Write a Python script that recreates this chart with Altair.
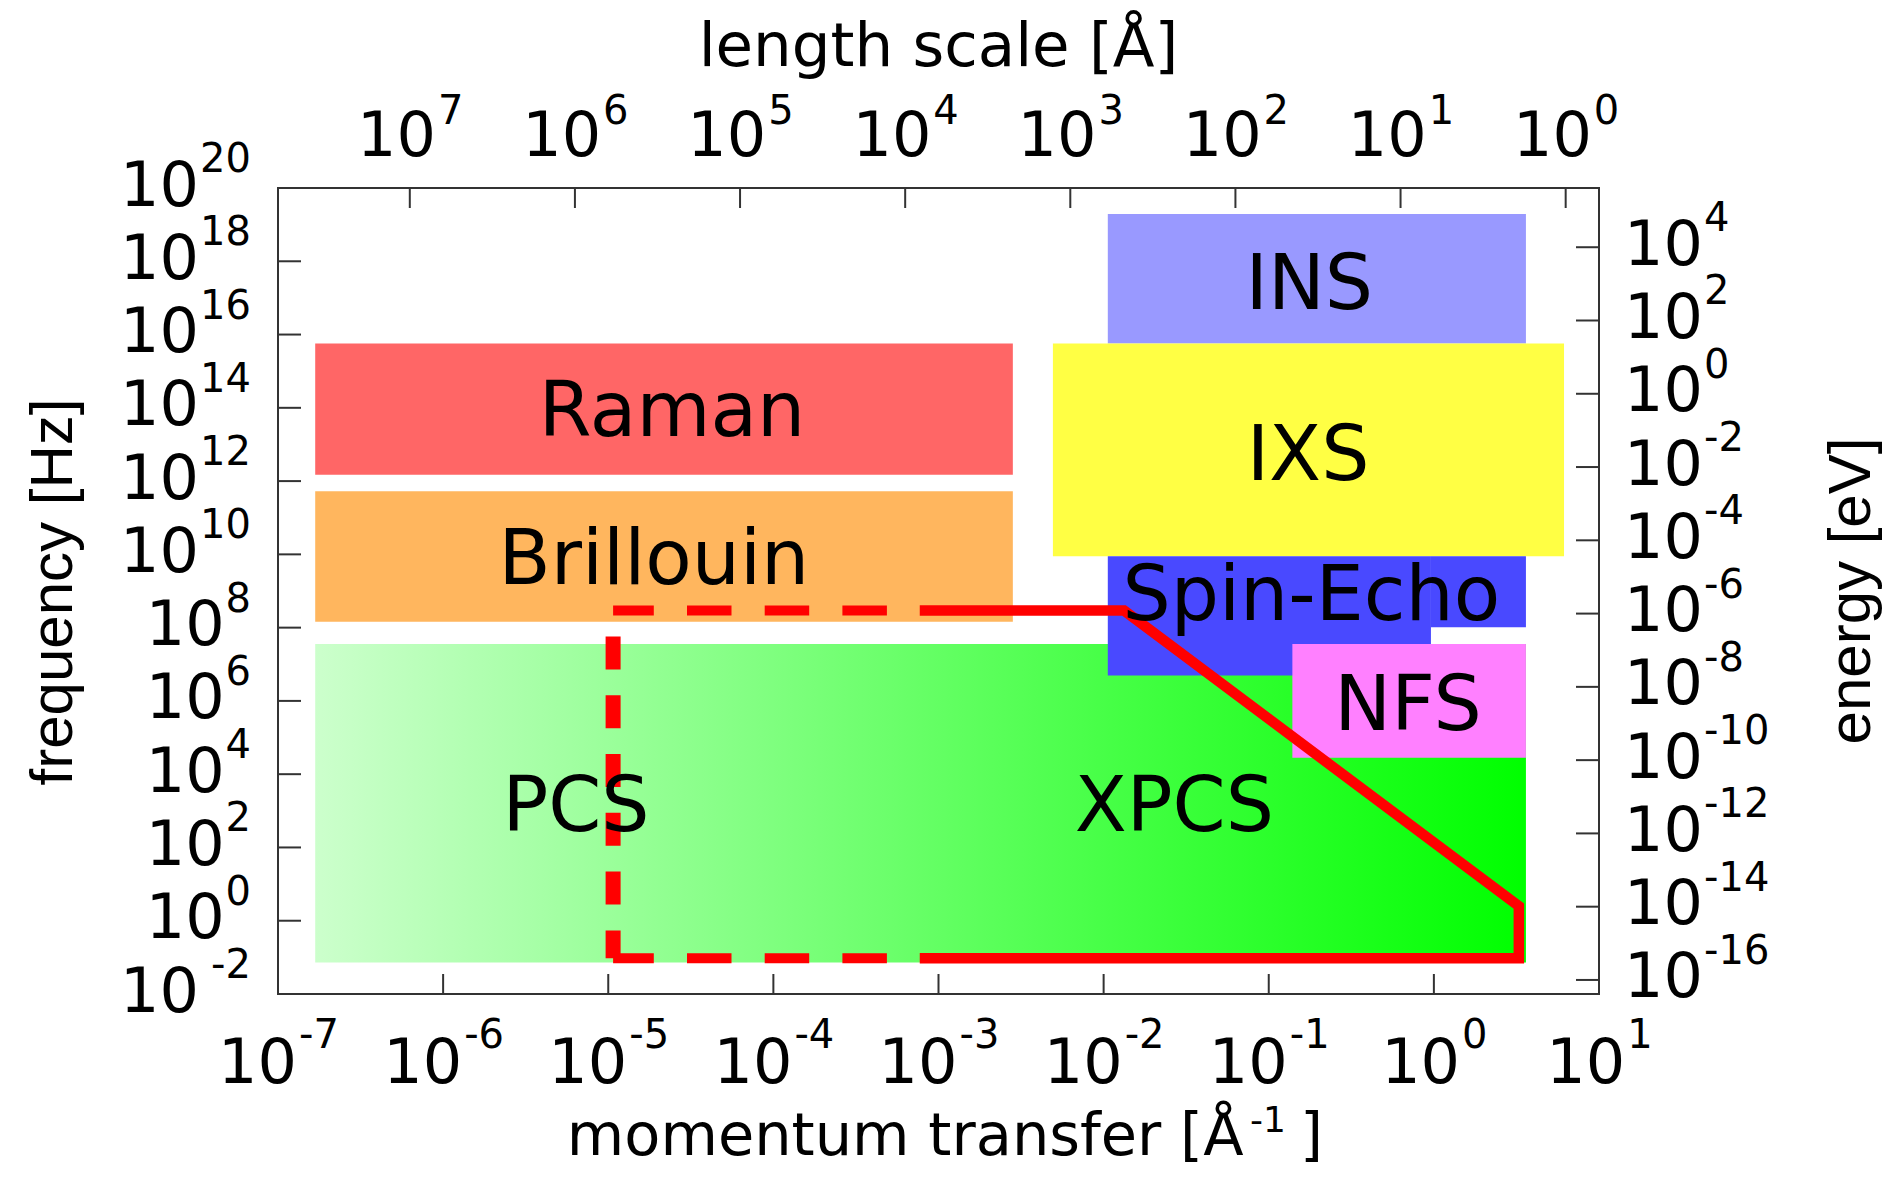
import math
import altair as alt
import pandas as pd

H_PLANCK = 4.135667e-15   # eV s  (energy axis = h * f)
TWO_PI = 2.0 * math.pi     # length scale = 2*pi / q

# ---------------- data ----------------
# rectangular technique regions: momentum transfer q [1/A], frequency f [Hz]
region_names = ["Raman", "Brillouin", "INS", "IXS", "Spin-Echo", "Spin-Echo", "NFS"]
region_q_lo = [1.68e-7, 1.68e-7, 1.06e-2, 4.93e-3, 1.06e-2, 0.96, 0.139]
region_q_hi = [2.82e-3, 2.82e-3, 3.61, 6.14, 0.96, 3.61, 3.61]
region_f_lo = [1.49e12, 1.45e8, 5.69e15, 8.9e9, 4.9e6, 1.03e8, 2.8e4]
region_f_hi = [5.69e15, 5.3e11, 1.96e19, 5.69e15, 8.9e9, 8.9e9, 3.6e7]

color_names = ["Raman", "Brillouin", "INS", "IXS", "Spin-Echo", "NFS"]
color_values = ["#ff6666", "#ffb65e", "#9999ff", "#ffff44", "#4949ff", "#ff80ff"]

# (X)PCS green region
pcs_q_lo = [1.68e-7]
pcs_q_hi = [3.61]
pcs_f_lo = [0.072]
pcs_f_hi = [3.6e7]

# region labels
label_text = ["Raman", "Brillouin", "INS", "IXS", "Spin-Echo", "NFS", "PCS", "XPCS"]
label_q = [2.43e-5, 1.89e-5, 0.176, 0.173, 0.181, 0.698, 6.38e-6, 0.0268]
label_f = [9.8e13, 9.0e9, 2.86e17, 6.15e12, 9.1e8, 9.3e5, 1.62e3, 1.62e3]

# red XPCS outline
red_q_left = 1.07e-5
red_q_dash_end = 7.7e-4
red_q_knee = 0.0133
red_q_right = 3.27
red_f_top = 2.93e8
red_f_knee = 2.5
red_f_bottom = 0.095

solid_q = [red_q_dash_end, red_q_knee, red_q_right, red_q_right, red_q_dash_end]
solid_f = [red_f_top, red_f_top, red_f_knee, red_f_bottom, red_f_bottom]

# axis tick exponents
bottom_exps = [-7, -6, -5, -4, -3, -2, -1, 0, 1]          # q [1/A]
left_exps = [-2, 0, 2, 4, 6, 8, 10, 12, 14, 16, 18, 20]   # f [Hz]
top_exps = [7, 6, 5, 4, 3, 2, 1, 0]                       # length [A]
right_exps = [4, 2, 0, -2, -4, -6, -8, -10, -12, -14, -16]  # energy [eV]

# ---------------- tables ----------------
regions = pd.DataFrame({"name": region_names, "q_lo": region_q_lo, "q_hi": region_q_hi,
                        "f_lo": region_f_lo, "f_hi": region_f_hi})
pcs = pd.DataFrame({"q_lo": pcs_q_lo, "q_hi": pcs_q_hi, "f_lo": pcs_f_lo, "f_hi": pcs_f_hi})
labels = pd.DataFrame({"t": label_text, "q": label_q, "f": label_f})
solid = pd.DataFrame({"q": solid_q, "f": solid_f, "i": list(range(len(solid_q)))})
# dashed horizontal segments (each drawn from left to right)
dash_h = pd.DataFrame({"q": [red_q_left, red_q_dash_end, red_q_left, red_q_dash_end],
                       "f": [red_f_top, red_f_top, red_f_bottom, red_f_bottom],
                       "seg": ["top", "top", "bottom", "bottom"], "i": [0, 1, 0, 1]})
# dashed vertical segment (drawn from bottom to top)
dash_v = pd.DataFrame({"q": [red_q_left, red_q_left], "f": [red_f_bottom, red_f_top], "i": [0, 1]})


def tick_table(exps, conv):
    return pd.DataFrame({"v": [conv(e) for e in exps], "e": exps,
                         "s": [str(e) for e in exps], "n": [len(str(e)) for e in exps]})


bottom_df = tick_table(bottom_exps, lambda e: 10.0 ** e)
left_df = tick_table(left_exps, lambda e: 10.0 ** e)
top_df = tick_table(top_exps, lambda e: TWO_PI / 10.0 ** e)
right_df = tick_table(right_exps, lambda e: 10.0 ** e / H_PLANCK)

# ---------------- chart ----------------
W, H = 1321, 806
FONT = "DejaVu Sans"
VFONT = "Liberation Sans"
AX = "#333333"
BIG, SUP = 62, 40

xs = alt.Scale(type="log", domain=[1e-7, 10], nice=False)
ys = alt.Scale(type="log", domain=[1e-2, 1e20], nice=False)


def X(f):
    return alt.X(f, type="quantitative", scale=xs, axis=None)


def Y(f):
    return alt.Y(f, type="quantitative", scale=ys, axis=None)


green = alt.Chart(pcs).mark_rect(
    color=alt.LinearGradient(gradient="linear", x1=0, x2=1, y1=0, y2=0,
                             stops=[alt.GradientStop(color="#ccffcc", offset=0),
                                    alt.GradientStop(color="#00ff00", offset=1)])
).encode(x=X("q_lo"), x2="q_hi", y=Y("f_lo"), y2="f_hi")

rects = alt.Chart(regions).mark_rect().encode(
    x=X("q_lo"), x2="q_hi", y=Y("f_lo"), y2="f_hi",
    color=alt.Color("name:N", scale=alt.Scale(domain=color_names, range=color_values), legend=None),
)

red_h = alt.Chart(dash_h).mark_line(color="#ff0000", strokeWidth=10, strokeDash=[44.5, 33.2],
                                    strokeDashOffset=3.8, strokeCap="butt").encode(
    x=X("q"), y=Y("f"), detail="seg:N", order="i:Q")
red_v = alt.Chart(dash_v).mark_line(color="#ff0000", strokeWidth=15, strokeDash=[33, 25.8],
                                    strokeDashOffset=5.2, strokeCap="butt").encode(
    x=X("q"), y=Y("f"), order="i:Q")
red_solid = alt.Chart(solid).mark_line(color="#ff0000", strokeWidth=10.5, strokeJoin="miter").encode(
    x=X("q"), y=Y("f"), order="i:Q")

region_labels = alt.Chart(labels).mark_text(
    font=FONT, fontSize=76, align="center", baseline="alphabetic", dy=27.7, color="black"
).encode(x=X("q"), y=Y("f"), text="t:N")

# tick marks (inward)
tick_b = alt.Chart(bottom_df).mark_rule(color=AX, strokeWidth=2).encode(
    x=X("v"), y=alt.value(H), y2=alt.value(H - 20))
tick_t = alt.Chart(top_df).mark_rule(color=AX, strokeWidth=2).encode(
    x=X("v"), y=alt.value(0), y2=alt.value(20))
tick_l = alt.Chart(left_df).mark_rule(color=AX, strokeWidth=2).encode(
    y=Y("v"), x=alt.value(0), x2=alt.value(23))
tick_r = alt.Chart(right_df).mark_rule(color=AX, strokeWidth=2).encode(
    y=Y("v"), x=alt.value(W), x2=alt.value(W - 23))

layers = [green, rects, red_h, red_v, red_solid, tick_b, tick_t, tick_l, tick_r, region_labels]

# bottom tick labels
for cond, dxb in [(alt.datum.e < 0, 19), (alt.datum.e >= 0, 26.2)]:
    b = alt.Chart(bottom_df).transform_filter(cond)
    layers.append(b.mark_text(font=FONT, fontSize=BIG, align="right", baseline="alphabetic",
                              dx=dxb, color="black")
                  .encode(x=X("v"), y=alt.value(H + 88.5), text=alt.value("10")))
    layers.append(b.mark_text(font=FONT, fontSize=SUP, align="left", baseline="alphabetic",
                              dx=dxb + 2, color="black")
                  .encode(x=X("v"), y=alt.value(H + 53.5), text="s:N"))

# top tick labels
layers.append(alt.Chart(top_df).mark_text(font=FONT, fontSize=BIG, align="right", baseline="alphabetic",
                                          dx=26.2, color="black")
              .encode(x=X("v"), y=alt.value(-32), text=alt.value("10")))
layers.append(alt.Chart(top_df).mark_text(font=FONT, fontSize=SUP, align="left", baseline="alphabetic",
                                          dx=28.2, color="black")
              .encode(x=X("v"), y=alt.value(-63.6), text="s:N"))

# left tick labels
for n, dxl in [(2, -79), (1, -53.4)]:
    l = alt.Chart(left_df).transform_filter(alt.datum.n == n)
    layers.append(l.mark_text(font=FONT, fontSize=BIG, align="right", baseline="alphabetic",
                              dx=dxl, dy=17.5, color="black")
                  .encode(y=Y("v"), x=alt.value(0), text=alt.value("10")))
layers.append(alt.Chart(left_df).mark_text(font=FONT, fontSize=SUP, align="right", baseline="alphabetic",
                                           dx=-27, dy=-16, color="black")
              .encode(y=Y("v"), x=alt.value(0), text="s:N"))

# right tick labels
layers.append(alt.Chart(right_df).mark_text(font=FONT, fontSize=BIG, align="left", baseline="alphabetic",
                                            dx=25, dy=17.5, color="black")
              .encode(y=Y("v"), x=alt.value(W), text=alt.value("10")))
layers.append(alt.Chart(right_df).mark_text(font=FONT, fontSize=SUP, align="left", baseline="alphabetic",
                                            dx=105, dy=-16, color="black")
              .encode(y=Y("v"), x=alt.value(W), text="s:N"))


# axis titles
def title(text, x, y, size, font=FONT, align="center", angle=0):
    return alt.Chart(pd.DataFrame({"t": [text]})).mark_text(
        font=font, fontSize=size, align=align, baseline="alphabetic", angle=angle, color="black"
    ).encode(x=alt.value(x), y=alt.value(y), text="t:N")


layers += [
    title("length scale [Å]", W / 2, -122.5, 61),
    title("momentum transfer [Å", 965.5, H + 161, 59, align="right"),
    title("-1", 972, H + 138, 36, align="left"),
    title("]", 1022, H + 161, 59, align="left"),
    title("frequency [Hz]", -206, H / 2 + 1, 60, font=VFONT, angle=270),
    title("energy [eV]", W + 271, H / 2, 60, font=VFONT, angle=270),
]

chart = alt.layer(*layers).properties(
    width=W, height=H,
    padding={"left": 270, "top": 180, "right": 288, "bottom": 175},
    autosize=alt.AutoSizeParams(type="none"),
    background="white",
).configure_view(stroke=AX, strokeWidth=2)

chart.save("out.html", embed_options={"renderer": "svg", "actions": False})
